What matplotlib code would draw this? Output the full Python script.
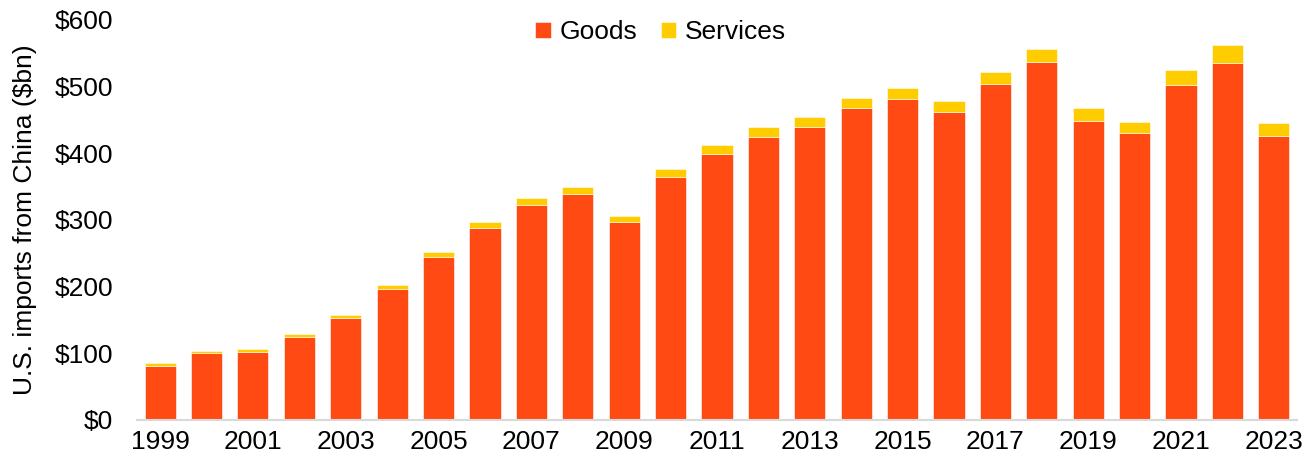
import matplotlib.pyplot as plt
import numpy as np

plt.rcParams['font.family'] = ['Liberation Sans', 'DejaVu Sans']

years = list(range(1999, 2024))
goods = [81, 100.5, 102.5, 125, 152.5, 197, 245, 288, 322, 338.5, 297.5, 365, 399.5,
         425, 440, 468, 482, 461.5, 504.5, 537.5, 449, 431, 503, 535.5, 426.5]
totals = [85, 103.5, 106.5, 129, 157.5, 202.5, 251.5, 297, 332.5, 349.5, 306.5, 376.5, 412,
          439, 455, 483, 498.5, 478.5, 522.5, 556.5, 468, 447, 525, 562, 445.5]
services = [t - g for t, g in zip(totals, goods)]

goods_color = '#FF4A14'
services_color = '#FFCC00'

fig = plt.figure(figsize=(13.13, 4.63), dpi=100)
ax = fig.add_axes([0.1043, 0.0929, 0.8835, 0.864])

x = np.arange(len(years))
w = 0.67
ax.bar(x, goods, width=w, color=goods_color, edgecolor='white', linewidth=0.4, label='Goods')
ax.bar(x, services, width=w, bottom=goods, color=services_color, edgecolor='white',
       linewidth=0.4, label='Services')

ax.set_xlim(-0.5, len(years) - 0.5)
ax.set_ylim(0, 600)
ax.set_yticks(np.arange(0, 601, 100))
ax.set_yticklabels(['$' + str(v) for v in range(0, 601, 100)])
ax.set_xticks(x[::2])
ax.set_xticklabels([str(y) for y in years[::2]])

for s in ['top', 'right', 'left']:
    ax.spines[s].set_visible(False)
ax.spines['bottom'].set_color('#d9d9d9')
ax.spines['bottom'].set_linewidth(1.5)
ax.tick_params(axis='both', length=0, labelsize=19, colors='black')
ax.tick_params(axis='y', pad=17)
ax.tick_params(axis='x', pad=7)
ax.set_ylabel('U.S. imports from China ($bn)', fontsize=19, labelpad=13)

fig.legend(loc='center', bbox_to_anchor=(0.503, 0.93), ncol=2, frameon=False, fontsize=19,
           handlelength=0.6, handleheight=0.6, handletextpad=0.3, columnspacing=0.9)

fig.savefig('out.png', dpi=100)
